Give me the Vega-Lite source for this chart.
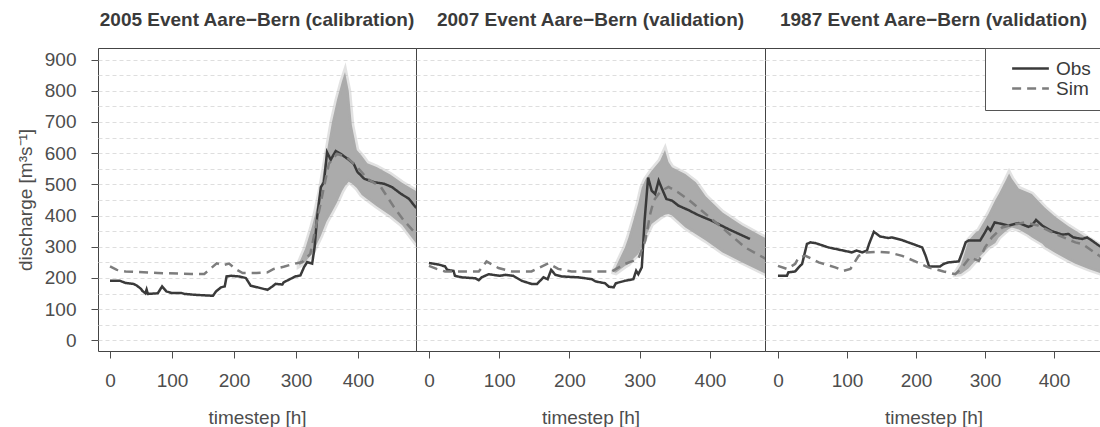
{
  "$schema": "https://vega.github.io/schema/vega-lite/v6.json",
  "background": "white",
  "padding": {"left": 15, "top": 10, "right": 0, "bottom": 0},
  "spacing": 0,
  "bounds": "flush",
  "resolve": {"scale": {"color": "independent", "strokeDash": "independent"}, "legend": {"color": "independent", "strokeDash": "independent"}},
  "config": {
    "font": "Liberation Sans",
    "view": {"stroke": "#444444", "strokeWidth": 1},
    "axis": {
      "labelFont": "Liberation Sans", "labelFontSize": 19, "labelColor": "#4d4d4d",
      "titleFont": "Liberation Sans", "titleFontSize": 19, "titleFontWeight": "normal", "titleColor": "#4d4d4d",
      "tickColor": "#4d4d4d", "tickSize": 7, "domain": false,
      "gridColor": "#dedede", "gridDash": [4, 3], "gridWidth": 1
    },
    "title": {"font": "Liberation Sans", "fontSize": 19, "fontWeight": "bold", "color": "#3a3a3a", "offset": 18, "anchor": "middle"},
    "legend": {"labelFont": "Liberation Sans", "labelFontSize": 19, "labelColor": "#3a3a3a"}
  },
  "datasets": {
    "lines": [
      {"event": "2005", "series": "Obs", "t": 0, "v": 191}, {"event": "2005", "series": "Obs", "t": 16, "v": 191}, {"event": "2005", "series": "Obs", "t": 25, "v": 184}, {"event": "2005", "series": "Obs", "t": 38, "v": 181}, {"event": "2005", "series": "Obs", "t": 43, "v": 176}, {"event": "2005", "series": "Obs", "t": 50, "v": 165}, {"event": "2005", "series": "Obs", "t": 52, "v": 159}, {"event": "2005", "series": "Obs", "t": 57, "v": 151}, {"event": "2005", "series": "Obs", "t": 59, "v": 163}, {"event": "2005", "series": "Obs", "t": 61, "v": 149}, {"event": "2005", "series": "Obs", "t": 77, "v": 151}, {"event": "2005", "series": "Obs", "t": 84, "v": 173}, {"event": "2005", "series": "Obs", "t": 91, "v": 157}, {"event": "2005", "series": "Obs", "t": 99, "v": 152}, {"event": "2005", "series": "Obs", "t": 115, "v": 152}, {"event": "2005", "series": "Obs", "t": 120, "v": 149}, {"event": "2005", "series": "Obs", "t": 137, "v": 146}, {"event": "2005", "series": "Obs", "t": 166, "v": 143}, {"event": "2005", "series": "Obs", "t": 171, "v": 157}, {"event": "2005", "series": "Obs", "t": 179, "v": 170}, {"event": "2005", "series": "Obs", "t": 185, "v": 173}, {"event": "2005", "series": "Obs", "t": 188, "v": 205}, {"event": "2005", "series": "Obs", "t": 195, "v": 207}, {"event": "2005", "series": "Obs", "t": 208, "v": 205}, {"event": "2005", "series": "Obs", "t": 219, "v": 200}, {"event": "2005", "series": "Obs", "t": 227, "v": 175}, {"event": "2005", "series": "Obs", "t": 238, "v": 170}, {"event": "2005", "series": "Obs", "t": 254, "v": 162}, {"event": "2005", "series": "Obs", "t": 262, "v": 173}, {"event": "2005", "series": "Obs", "t": 267, "v": 181}, {"event": "2005", "series": "Obs", "t": 278, "v": 179}, {"event": "2005", "series": "Obs", "t": 280, "v": 186}, {"event": "2005", "series": "Obs", "t": 291, "v": 197}, {"event": "2005", "series": "Obs", "t": 299, "v": 205}, {"event": "2005", "series": "Obs", "t": 307, "v": 208}, {"event": "2005", "series": "Obs", "t": 313, "v": 235}, {"event": "2005", "series": "Obs", "t": 318, "v": 251}, {"event": "2005", "series": "Obs", "t": 326, "v": 246}, {"event": "2005", "series": "Obs", "t": 330, "v": 299}, {"event": "2005", "series": "Obs", "t": 334, "v": 395}, {"event": "2005", "series": "Obs", "t": 340, "v": 491}, {"event": "2005", "series": "Obs", "t": 345, "v": 507}, {"event": "2005", "series": "Obs", "t": 350, "v": 603}, {"event": "2005", "series": "Obs", "t": 356, "v": 579}, {"event": "2005", "series": "Obs", "t": 364, "v": 607}, {"event": "2005", "series": "Obs", "t": 372, "v": 598}, {"event": "2005", "series": "Obs", "t": 385, "v": 579}, {"event": "2005", "series": "Obs", "t": 393, "v": 566}, {"event": "2005", "series": "Obs", "t": 399, "v": 540}, {"event": "2005", "series": "Obs", "t": 410, "v": 518}, {"event": "2005", "series": "Obs", "t": 426, "v": 507}, {"event": "2005", "series": "Obs", "t": 442, "v": 502}, {"event": "2005", "series": "Obs", "t": 455, "v": 491}, {"event": "2005", "series": "Obs", "t": 469, "v": 470}, {"event": "2005", "series": "Obs", "t": 482, "v": 454}, {"event": "2005", "series": "Obs", "t": 494, "v": 424},
      {"event": "2005", "series": "Sim", "t": 0, "v": 237}, {"event": "2005", "series": "Sim", "t": 11, "v": 226}, {"event": "2005", "series": "Sim", "t": 25, "v": 221}, {"event": "2005", "series": "Sim", "t": 77, "v": 216}, {"event": "2005", "series": "Sim", "t": 131, "v": 213}, {"event": "2005", "series": "Sim", "t": 152, "v": 213}, {"event": "2005", "series": "Sim", "t": 160, "v": 226}, {"event": "2005", "series": "Sim", "t": 172, "v": 247}, {"event": "2005", "series": "Sim", "t": 182, "v": 241}, {"event": "2005", "series": "Sim", "t": 192, "v": 246}, {"event": "2005", "series": "Sim", "t": 203, "v": 228}, {"event": "2005", "series": "Sim", "t": 214, "v": 216}, {"event": "2005", "series": "Sim", "t": 236, "v": 216}, {"event": "2005", "series": "Sim", "t": 254, "v": 218}, {"event": "2005", "series": "Sim", "t": 264, "v": 229}, {"event": "2005", "series": "Sim", "t": 280, "v": 236}, {"event": "2005", "series": "Sim", "t": 296, "v": 245}, {"event": "2005", "series": "Sim", "t": 310, "v": 251}, {"event": "2005", "series": "Sim", "t": 323, "v": 277}, {"event": "2005", "series": "Sim", "t": 334, "v": 384}, {"event": "2005", "series": "Sim", "t": 345, "v": 491}, {"event": "2005", "series": "Sim", "t": 353, "v": 566}, {"event": "2005", "series": "Sim", "t": 366, "v": 598}, {"event": "2005", "series": "Sim", "t": 382, "v": 587}, {"event": "2005", "series": "Sim", "t": 399, "v": 555}, {"event": "2005", "series": "Sim", "t": 415, "v": 518}, {"event": "2005", "series": "Sim", "t": 437, "v": 491}, {"event": "2005", "series": "Sim", "t": 458, "v": 427}, {"event": "2005", "series": "Sim", "t": 474, "v": 384}, {"event": "2005", "series": "Sim", "t": 494, "v": 340},
      {"event": "2007", "series": "Obs", "t": 0, "v": 248}, {"event": "2007", "series": "Obs", "t": 14, "v": 243}, {"event": "2007", "series": "Obs", "t": 23, "v": 237}, {"event": "2007", "series": "Obs", "t": 26, "v": 226}, {"event": "2007", "series": "Obs", "t": 35, "v": 223}, {"event": "2007", "series": "Obs", "t": 37, "v": 207}, {"event": "2007", "series": "Obs", "t": 47, "v": 202}, {"event": "2007", "series": "Obs", "t": 66, "v": 199}, {"event": "2007", "series": "Obs", "t": 71, "v": 193}, {"event": "2007", "series": "Obs", "t": 75, "v": 202}, {"event": "2007", "series": "Obs", "t": 85, "v": 212}, {"event": "2007", "series": "Obs", "t": 101, "v": 207}, {"event": "2007", "series": "Obs", "t": 109, "v": 210}, {"event": "2007", "series": "Obs", "t": 120, "v": 207}, {"event": "2007", "series": "Obs", "t": 132, "v": 191}, {"event": "2007", "series": "Obs", "t": 146, "v": 181}, {"event": "2007", "series": "Obs", "t": 154, "v": 181}, {"event": "2007", "series": "Obs", "t": 163, "v": 202}, {"event": "2007", "series": "Obs", "t": 169, "v": 196}, {"event": "2007", "series": "Obs", "t": 174, "v": 226}, {"event": "2007", "series": "Obs", "t": 180, "v": 210}, {"event": "2007", "series": "Obs", "t": 189, "v": 205}, {"event": "2007", "series": "Obs", "t": 213, "v": 202}, {"event": "2007", "series": "Obs", "t": 232, "v": 196}, {"event": "2007", "series": "Obs", "t": 237, "v": 189}, {"event": "2007", "series": "Obs", "t": 251, "v": 183}, {"event": "2007", "series": "Obs", "t": 256, "v": 172}, {"event": "2007", "series": "Obs", "t": 263, "v": 170}, {"event": "2007", "series": "Obs", "t": 266, "v": 183}, {"event": "2007", "series": "Obs", "t": 279, "v": 191}, {"event": "2007", "series": "Obs", "t": 291, "v": 196}, {"event": "2007", "series": "Obs", "t": 295, "v": 223}, {"event": "2007", "series": "Obs", "t": 298, "v": 212}, {"event": "2007", "series": "Obs", "t": 303, "v": 234}, {"event": "2007", "series": "Obs", "t": 307, "v": 384}, {"event": "2007", "series": "Obs", "t": 312, "v": 522}, {"event": "2007", "series": "Obs", "t": 317, "v": 480}, {"event": "2007", "series": "Obs", "t": 322, "v": 469}, {"event": "2007", "series": "Obs", "t": 327, "v": 512}, {"event": "2007", "series": "Obs", "t": 331, "v": 490}, {"event": "2007", "series": "Obs", "t": 338, "v": 453}, {"event": "2007", "series": "Obs", "t": 346, "v": 448}, {"event": "2007", "series": "Obs", "t": 355, "v": 432}, {"event": "2007", "series": "Obs", "t": 369, "v": 418}, {"event": "2007", "series": "Obs", "t": 383, "v": 402}, {"event": "2007", "series": "Obs", "t": 402, "v": 384}, {"event": "2007", "series": "Obs", "t": 426, "v": 357}, {"event": "2007", "series": "Obs", "t": 457, "v": 325},
      {"event": "2007", "series": "Sim", "t": 0, "v": 239}, {"event": "2007", "series": "Sim", "t": 11, "v": 229}, {"event": "2007", "series": "Sim", "t": 23, "v": 221}, {"event": "2007", "series": "Sim", "t": 71, "v": 221}, {"event": "2007", "series": "Sim", "t": 82, "v": 253}, {"event": "2007", "series": "Sim", "t": 99, "v": 232}, {"event": "2007", "series": "Sim", "t": 118, "v": 221}, {"event": "2007", "series": "Sim", "t": 146, "v": 221}, {"event": "2007", "series": "Sim", "t": 158, "v": 234}, {"event": "2007", "series": "Sim", "t": 170, "v": 247}, {"event": "2007", "series": "Sim", "t": 184, "v": 229}, {"event": "2007", "series": "Sim", "t": 203, "v": 221}, {"event": "2007", "series": "Sim", "t": 260, "v": 221}, {"event": "2007", "series": "Sim", "t": 279, "v": 245}, {"event": "2007", "series": "Sim", "t": 298, "v": 261}, {"event": "2007", "series": "Sim", "t": 308, "v": 320}, {"event": "2007", "series": "Sim", "t": 315, "v": 405}, {"event": "2007", "series": "Sim", "t": 320, "v": 448}, {"event": "2007", "series": "Sim", "t": 330, "v": 478}, {"event": "2007", "series": "Sim", "t": 341, "v": 492}, {"event": "2007", "series": "Sim", "t": 355, "v": 474}, {"event": "2007", "series": "Sim", "t": 370, "v": 450}, {"event": "2007", "series": "Sim", "t": 388, "v": 416}, {"event": "2007", "series": "Sim", "t": 417, "v": 362}, {"event": "2007", "series": "Sim", "t": 450, "v": 298}, {"event": "2007", "series": "Sim", "t": 479, "v": 262},
      {"event": "1987", "series": "Obs", "t": 0, "v": 207}, {"event": "1987", "series": "Obs", "t": 13, "v": 207}, {"event": "1987", "series": "Obs", "t": 15, "v": 218}, {"event": "1987", "series": "Obs", "t": 25, "v": 221}, {"event": "1987", "series": "Obs", "t": 30, "v": 234}, {"event": "1987", "series": "Obs", "t": 35, "v": 245}, {"event": "1987", "series": "Obs", "t": 42, "v": 309}, {"event": "1987", "series": "Obs", "t": 47, "v": 314}, {"event": "1987", "series": "Obs", "t": 54, "v": 312}, {"event": "1987", "series": "Obs", "t": 73, "v": 298}, {"event": "1987", "series": "Obs", "t": 107, "v": 282}, {"event": "1987", "series": "Obs", "t": 114, "v": 288}, {"event": "1987", "series": "Obs", "t": 122, "v": 282}, {"event": "1987", "series": "Obs", "t": 129, "v": 288}, {"event": "1987", "series": "Obs", "t": 132, "v": 309}, {"event": "1987", "series": "Obs", "t": 139, "v": 348}, {"event": "1987", "series": "Obs", "t": 148, "v": 333}, {"event": "1987", "series": "Obs", "t": 160, "v": 328}, {"event": "1987", "series": "Obs", "t": 165, "v": 330}, {"event": "1987", "series": "Obs", "t": 179, "v": 322}, {"event": "1987", "series": "Obs", "t": 199, "v": 306}, {"event": "1987", "series": "Obs", "t": 209, "v": 298}, {"event": "1987", "series": "Obs", "t": 214, "v": 271}, {"event": "1987", "series": "Obs", "t": 219, "v": 237}, {"event": "1987", "series": "Obs", "t": 235, "v": 237}, {"event": "1987", "series": "Obs", "t": 240, "v": 245}, {"event": "1987", "series": "Obs", "t": 247, "v": 250}, {"event": "1987", "series": "Obs", "t": 262, "v": 253}, {"event": "1987", "series": "Obs", "t": 267, "v": 282}, {"event": "1987", "series": "Obs", "t": 272, "v": 314}, {"event": "1987", "series": "Obs", "t": 276, "v": 320}, {"event": "1987", "series": "Obs", "t": 293, "v": 320}, {"event": "1987", "series": "Obs", "t": 300, "v": 346}, {"event": "1987", "series": "Obs", "t": 304, "v": 362}, {"event": "1987", "series": "Obs", "t": 308, "v": 352}, {"event": "1987", "series": "Obs", "t": 314, "v": 378}, {"event": "1987", "series": "Obs", "t": 325, "v": 373}, {"event": "1987", "series": "Obs", "t": 334, "v": 368}, {"event": "1987", "series": "Obs", "t": 349, "v": 376}, {"event": "1987", "series": "Obs", "t": 363, "v": 364}, {"event": "1987", "series": "Obs", "t": 368, "v": 368}, {"event": "1987", "series": "Obs", "t": 374, "v": 386}, {"event": "1987", "series": "Obs", "t": 383, "v": 368}, {"event": "1987", "series": "Obs", "t": 397, "v": 350}, {"event": "1987", "series": "Obs", "t": 412, "v": 339}, {"event": "1987", "series": "Obs", "t": 421, "v": 341}, {"event": "1987", "series": "Obs", "t": 428, "v": 330}, {"event": "1987", "series": "Obs", "t": 441, "v": 325}, {"event": "1987", "series": "Obs", "t": 448, "v": 330}, {"event": "1987", "series": "Obs", "t": 455, "v": 320}, {"event": "1987", "series": "Obs", "t": 465, "v": 304}, {"event": "1987", "series": "Obs", "t": 472, "v": 296},
      {"event": "1987", "series": "Sim", "t": 0, "v": 239}, {"event": "1987", "series": "Sim", "t": 13, "v": 229}, {"event": "1987", "series": "Sim", "t": 25, "v": 245}, {"event": "1987", "series": "Sim", "t": 30, "v": 266}, {"event": "1987", "series": "Sim", "t": 40, "v": 271}, {"event": "1987", "series": "Sim", "t": 59, "v": 250}, {"event": "1987", "series": "Sim", "t": 83, "v": 234}, {"event": "1987", "series": "Sim", "t": 95, "v": 223}, {"event": "1987", "series": "Sim", "t": 105, "v": 229}, {"event": "1987", "series": "Sim", "t": 117, "v": 271}, {"event": "1987", "series": "Sim", "t": 127, "v": 282}, {"event": "1987", "series": "Sim", "t": 146, "v": 284}, {"event": "1987", "series": "Sim", "t": 160, "v": 282}, {"event": "1987", "series": "Sim", "t": 180, "v": 271}, {"event": "1987", "series": "Sim", "t": 199, "v": 253}, {"event": "1987", "series": "Sim", "t": 218, "v": 234}, {"event": "1987", "series": "Sim", "t": 240, "v": 221}, {"event": "1987", "series": "Sim", "t": 257, "v": 212}, {"event": "1987", "series": "Sim", "t": 267, "v": 234}, {"event": "1987", "series": "Sim", "t": 278, "v": 266}, {"event": "1987", "series": "Sim", "t": 291, "v": 255}, {"event": "1987", "series": "Sim", "t": 300, "v": 298}, {"event": "1987", "series": "Sim", "t": 310, "v": 330}, {"event": "1987", "series": "Sim", "t": 325, "v": 362}, {"event": "1987", "series": "Sim", "t": 339, "v": 370}, {"event": "1987", "series": "Sim", "t": 358, "v": 378}, {"event": "1987", "series": "Sim", "t": 377, "v": 368}, {"event": "1987", "series": "Sim", "t": 402, "v": 341}, {"event": "1987", "series": "Sim", "t": 431, "v": 314}, {"event": "1987", "series": "Sim", "t": 441, "v": 309}, {"event": "1987", "series": "Sim", "t": 460, "v": 280}, {"event": "1987", "series": "Sim", "t": 472, "v": 261}
    ],
    "bands": [
      {"event": "2005", "t": 305, "lo": 240, "hi": 248}, {"event": "2005", "t": 315, "lo": 252, "hi": 295}, {"event": "2005", "t": 325, "lo": 275, "hi": 360}, {"event": "2005", "t": 331, "lo": 298, "hi": 405}, {"event": "2005", "t": 340, "lo": 335, "hi": 491}, {"event": "2005", "t": 349, "lo": 380, "hi": 597}, {"event": "2005", "t": 358, "lo": 412, "hi": 700}, {"event": "2005", "t": 366, "lo": 442, "hi": 770}, {"event": "2005", "t": 374, "lo": 478, "hi": 830}, {"event": "2005", "t": 379, "lo": 495, "hi": 860}, {"event": "2005", "t": 385, "lo": 508, "hi": 800}, {"event": "2005", "t": 390, "lo": 503, "hi": 690}, {"event": "2005", "t": 398, "lo": 488, "hi": 610}, {"event": "2005", "t": 406, "lo": 466, "hi": 592}, {"event": "2005", "t": 415, "lo": 452, "hi": 568}, {"event": "2005", "t": 430, "lo": 430, "hi": 556}, {"event": "2005", "t": 452, "lo": 400, "hi": 532}, {"event": "2005", "t": 471, "lo": 370, "hi": 505}, {"event": "2005", "t": 494, "lo": 310, "hi": 478},
      {"event": "2007", "t": 263, "lo": 219, "hi": 221}, {"event": "2007", "t": 266, "lo": 217, "hi": 236}, {"event": "2007", "t": 279, "lo": 238, "hi": 298}, {"event": "2007", "t": 284, "lo": 245, "hi": 330}, {"event": "2007", "t": 291, "lo": 262, "hi": 384}, {"event": "2007", "t": 298, "lo": 277, "hi": 440}, {"event": "2007", "t": 303, "lo": 300, "hi": 490}, {"event": "2007", "t": 308, "lo": 330, "hi": 515}, {"event": "2007", "t": 317, "lo": 373, "hi": 544}, {"event": "2007", "t": 329, "lo": 394, "hi": 576}, {"event": "2007", "t": 336, "lo": 403, "hi": 610}, {"event": "2007", "t": 341, "lo": 405, "hi": 572}, {"event": "2007", "t": 346, "lo": 400, "hi": 555}, {"event": "2007", "t": 365, "lo": 362, "hi": 533}, {"event": "2007", "t": 380, "lo": 340, "hi": 507}, {"event": "2007", "t": 394, "lo": 320, "hi": 462}, {"event": "2007", "t": 418, "lo": 282, "hi": 410}, {"event": "2007", "t": 446, "lo": 250, "hi": 368}, {"event": "2007", "t": 479, "lo": 214, "hi": 328},
      {"event": "1987", "t": 257, "lo": 211, "hi": 214}, {"event": "1987", "t": 265, "lo": 213, "hi": 242}, {"event": "1987", "t": 276, "lo": 230, "hi": 320}, {"event": "1987", "t": 286, "lo": 255, "hi": 345}, {"event": "1987", "t": 291, "lo": 265, "hi": 352}, {"event": "1987", "t": 305, "lo": 298, "hi": 405}, {"event": "1987", "t": 315, "lo": 312, "hi": 450}, {"event": "1987", "t": 320, "lo": 330, "hi": 469}, {"event": "1987", "t": 330, "lo": 350, "hi": 512}, {"event": "1987", "t": 335, "lo": 358, "hi": 535}, {"event": "1987", "t": 339, "lo": 362, "hi": 518}, {"event": "1987", "t": 349, "lo": 355, "hi": 487}, {"event": "1987", "t": 363, "lo": 338, "hi": 474}, {"event": "1987", "t": 368, "lo": 330, "hi": 469}, {"event": "1987", "t": 383, "lo": 310, "hi": 434}, {"event": "1987", "t": 387, "lo": 300, "hi": 425}, {"event": "1987", "t": 402, "lo": 280, "hi": 396}, {"event": "1987", "t": 421, "lo": 257, "hi": 366}, {"event": "1987", "t": 431, "lo": 246, "hi": 352}, {"event": "1987", "t": 450, "lo": 229, "hi": 326}, {"event": "1987", "t": 472, "lo": 212, "hi": 296}
    ]
  },
  "hconcat": [
    {
      "width": 318, "height": 303,
      "title": {"text": "2005 Event Aare−Bern (calibration)"},
      "layer": [
        {
          "data": {"name": "bands"},
          "transform": [{"filter": "datum.event == '2005'"}],
          "mark": {"type": "area", "color": "#ababab", "stroke": "#ababab", "strokeWidth": 5, "strokeOpacity": 0.35, "clip": true},
          "encoding": {
            "x": {"field": "t", "type": "quantitative", "scale": {"domain": [-19.4, 493.5], "nice": false, "zero": false},
                  "axis": {"values": [0, 100, 200, 300, 400], "grid": false, "title": "timestep [h]", "labelPadding": 13, "titlePadding": 18, "labelFlush": false}},
            "y": {"field": "lo", "type": "quantitative", "scale": {"domain": [-34, 937], "nice": false, "zero": false},
                  "axis": {"values": [0, 50, 100, 150, 200, 250, 300, 350, 400, 450, 500, 550, 600, 650, 700, 750, 800, 850, 900], "labelExpr": "datum.value % 100 == 0 ? datum.label : ''", "tickOpacity": {"condition": {"test": "datum.value % 100 != 0", "value": 0}, "value": 1}, "labelOverlap": false, "grid": true, "title": "discharge [m³s⁻¹]", "labelPadding": 15, "titlePadding": 9, "labelFlush": false}},
            "y2": {"field": "hi"}
          }
        },
        {
          "data": {"name": "lines"},
          "transform": [{"filter": "datum.event == '2005'"}],
          "mark": {"type": "line", "strokeWidth": 2.5, "clip": true},
          "encoding": {
            "x": {"field": "t", "type": "quantitative", "scale": {"domain": [-19.4, 493.5], "nice": false, "zero": false},
                  "axis": {"values": [0, 100, 200, 300, 400], "grid": false, "title": "timestep [h]", "labelPadding": 13, "titlePadding": 18, "labelFlush": false}},
            "y": {"field": "v", "type": "quantitative", "scale": {"domain": [-34, 937], "nice": false, "zero": false},
                  "axis": {"values": [0, 50, 100, 150, 200, 250, 300, 350, 400, 450, 500, 550, 600, 650, 700, 750, 800, 850, 900], "labelExpr": "datum.value % 100 == 0 ? datum.label : ''", "tickOpacity": {"condition": {"test": "datum.value % 100 != 0", "value": 0}, "value": 1}, "labelOverlap": false, "grid": true, "title": "discharge [m³s⁻¹]", "labelPadding": 15, "titlePadding": 9, "labelFlush": false}},
            "color": {"field": "series", "type": "nominal", "scale": {"domain": ["Obs", "Sim"], "range": ["#3a3a3a", "#7d7d7d"]}, "legend": null},
            "strokeDash": {"field": "series", "type": "nominal", "scale": {"domain": ["Obs", "Sim"], "range": [[1, 0], [9, 6]]}, "legend": null}
          }
        }
      ]
    },
    {
      "width": 349, "height": 303,
      "title": {"text": "2007 Event Aare−Bern (validation)"},
      "layer": [
        {
          "data": {"name": "bands"},
          "transform": [{"filter": "datum.event == '2007'"}],
          "mark": {"type": "area", "color": "#ababab", "stroke": "#ababab", "strokeWidth": 5, "strokeOpacity": 0.35, "clip": true},
          "encoding": {
            "x": {"field": "t", "type": "quantitative", "scale": {"domain": [-18.4, 478.4], "nice": false, "zero": false},
                  "axis": {"values": [0, 100, 200, 300, 400], "grid": false, "title": "timestep [h]", "labelPadding": 13, "titlePadding": 18, "labelFlush": false}},
            "y": {"field": "lo", "type": "quantitative", "scale": {"domain": [-34, 937], "nice": false, "zero": false},
                  "axis": {"values": [0, 50, 100, 150, 200, 250, 300, 350, 400, 450, 500, 550, 600, 650, 700, 750, 800, 850, 900], "grid": true, "labels": false, "ticks": false, "title": null}},
            "y2": {"field": "hi"}
          }
        },
        {
          "data": {"name": "lines"},
          "transform": [{"filter": "datum.event == '2007'"}],
          "mark": {"type": "line", "strokeWidth": 2.5, "clip": true},
          "encoding": {
            "x": {"field": "t", "type": "quantitative", "scale": {"domain": [-18.4, 478.4], "nice": false, "zero": false},
                  "axis": {"values": [0, 100, 200, 300, 400], "grid": false, "title": "timestep [h]", "labelPadding": 13, "titlePadding": 18, "labelFlush": false}},
            "y": {"field": "v", "type": "quantitative", "scale": {"domain": [-34, 937], "nice": false, "zero": false},
                  "axis": {"values": [0, 50, 100, 150, 200, 250, 300, 350, 400, 450, 500, 550, 600, 650, 700, 750, 800, 850, 900], "grid": true, "labels": false, "ticks": false, "title": null}},
            "color": {"field": "series", "type": "nominal", "scale": {"domain": ["Obs", "Sim"], "range": ["#3a3a3a", "#7d7d7d"]}, "legend": null},
            "strokeDash": {"field": "series", "type": "nominal", "scale": {"domain": ["Obs", "Sim"], "range": [[1, 0], [9, 6]]}, "legend": null}
          }
        }
      ]
    },
    {
      "width": 337, "height": 303,
      "title": {"text": "1987 Event Aare−Bern (validation)"},
      "layer": [
        {
          "data": {"name": "bands"},
          "transform": [{"filter": "datum.event == '1987'"}],
          "mark": {"type": "area", "color": "#ababab", "stroke": "#ababab", "strokeWidth": 5, "strokeOpacity": 0.35, "clip": true},
          "encoding": {
            "x": {"field": "t", "type": "quantitative", "scale": {"domain": [-18.8, 469.6], "nice": false, "zero": false},
                  "axis": {"values": [0, 100, 200, 300, 400], "grid": false, "title": "timestep [h]", "labelPadding": 13, "titlePadding": 18, "labelFlush": false}},
            "y": {"field": "lo", "type": "quantitative", "scale": {"domain": [-34, 937], "nice": false, "zero": false},
                  "axis": {"values": [0, 50, 100, 150, 200, 250, 300, 350, 400, 450, 500, 550, 600, 650, 700, 750, 800, 850, 900], "grid": true, "labels": false, "ticks": false, "title": null}},
            "y2": {"field": "hi"}
          }
        },
        {
          "data": {"name": "lines"},
          "transform": [{"filter": "datum.event == '1987'"}],
          "mark": {"type": "line", "strokeWidth": 2.5, "clip": true},
          "encoding": {
            "x": {"field": "t", "type": "quantitative", "scale": {"domain": [-18.8, 469.6], "nice": false, "zero": false},
                  "axis": {"values": [0, 100, 200, 300, 400], "grid": false, "title": "timestep [h]", "labelPadding": 13, "titlePadding": 18, "labelFlush": false}},
            "y": {"field": "v", "type": "quantitative", "scale": {"domain": [-34, 937], "nice": false, "zero": false},
                  "axis": {"values": [0, 50, 100, 150, 200, 250, 300, 350, 400, 450, 500, 550, 600, 650, 700, 750, 800, 850, 900], "grid": true, "labels": false, "ticks": false, "title": null}},
            "color": {"field": "series", "type": "nominal", "scale": {"domain": ["Obs", "Sim"], "range": ["#3a3a3a", "#7d7d7d"]},
                      "legend": {"orient": "top-right", "offset": 0, "title": null, "padding": 11, "strokeColor": "#555555", "fillColor": "white", "symbolType": "M-3,0H3", "symbolSize": 150, "symbolStrokeWidth": 2.5, "symbolOffset": 25, "labelOffset": 16, "rowPadding": -4, "cornerRadius": 0}},
            "strokeDash": {"field": "series", "type": "nominal", "scale": {"domain": ["Obs", "Sim"], "range": [[1, 0], [9, 6]]},
                      "legend": {"orient": "top-right", "offset": 0, "title": null, "padding": 11, "strokeColor": "#555555", "fillColor": "white", "symbolType": "M-3,0H3", "symbolSize": 150, "symbolStrokeWidth": 2.5, "symbolOffset": 25, "labelOffset": 16, "rowPadding": -4, "cornerRadius": 0}}
          }
        }
      ]
    }
  ]
}
